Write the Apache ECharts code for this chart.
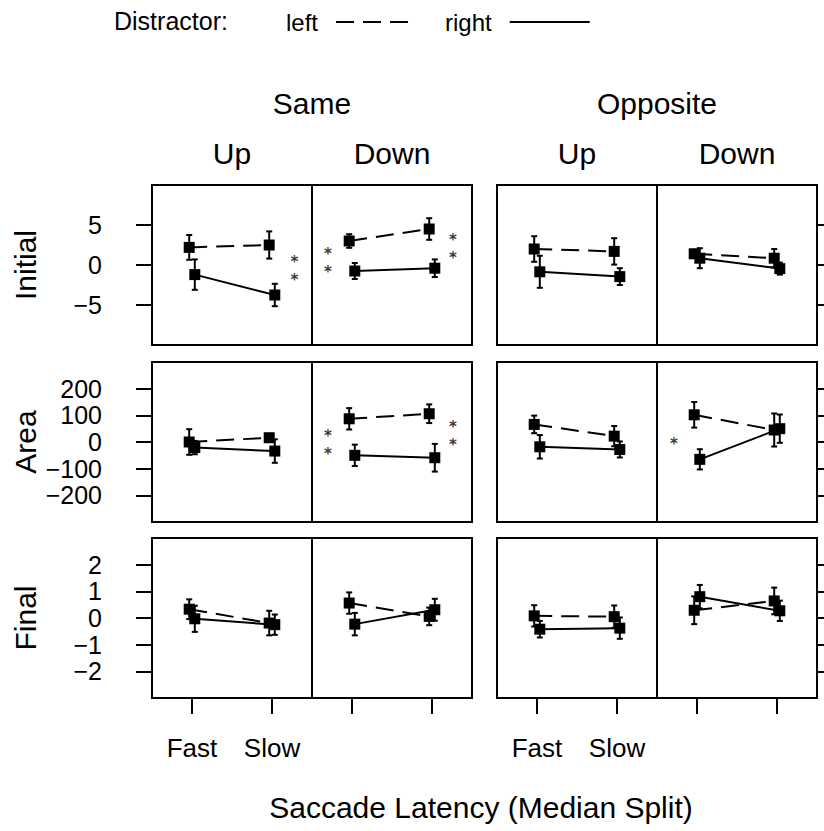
<!DOCTYPE html>
<html>
<head>
<meta charset="utf-8">
<script src="https://cdn.jsdelivr.net/npm/echarts@6/dist/echarts.min.js"></script>
<style>
  html, body { margin: 0; padding: 0; background: #fff; }
  #chart { width: 824px; height: 831px; }
</style>
</head>
<body>
<div id="chart"></div>
<script>
// ---- data -------------------------------------------------------------
const latencyLabels = ['Fast', 'Slow'];
const measureNames = ['Initial', 'Area', 'Final'];
const conditionNames = ['Same', 'Opposite'];
const directionNames = ['Up', 'Down'];
const distractorNames = ['left', 'right'];

// Panels in each row: Same-Up, Same-Down, Opposite-Up, Opposite-Down.
// Each entry is [Fast, Slow]; *Err holds the half-length of the error bar.
const initialLeftMean  = [[2.2, 2.5], [3.0, 4.5], [2.0, 1.7], [1.4, 0.85]];
const initialLeftErr   = [[1.55, 1.7], [0.85, 1.35], [1.6, 1.65], [0.5, 1.15]];
const initialRightMean = [[-1.2, -3.75], [-0.75, -0.4], [-0.85, -1.45], [0.85, -0.45]];
const initialRightErr  = [[1.9, 1.4], [1.0, 1.1], [2.0, 1.05], [1.25, 0.75]];

const areaLeftMean  = [[0, 16], [87, 106], [66, 22], [102, 45]];
const areaLeftErr   = [[48, 15], [40, 35], [33, 38], [48, 62]];
const areaRightMean = [[-21, -34], [-50, -59], [-18, -28], [-65, 50]];
const areaRightErr  = [[25, 44], [40, 52], [44, 30], [38, 53]];

const finalLeftMean  = [[0.33, -0.19], [0.56, 0.06], [0.08, 0.05], [0.29, 0.64]];
const finalLeftErr   = [[0.37, 0.46], [0.4, 0.33], [0.4, 0.42], [0.52, 0.5]];
const finalRightMean = [[-0.03, -0.25], [-0.23, 0.31], [-0.42, -0.38], [0.8, 0.27]];
const finalRightErr  = [[0.49, 0.38], [0.42, 0.41], [0.31, 0.4], [0.44, 0.38]];

// y ranges and tick values per row
const initialRange = [-10, 10];
const initialTicks = [-5, 0, 5];
const areaRange = [-300, 300];
const areaTicks = [-200, -100, 0, 100, 200];
const finalRange = [-3, 3];
const finalTicks = [-2, -1, 0, 1, 2];

// significance marks: [panel, x, y, number of asterisks stacked]
const initialStars = [[0, 2.28, -0.35, 2], [1, 0.7, 0.65, 2], [1, 2.26, 2.4, 2]];
const areaStars = [[1, 0.7, 0, 2], [1, 2.26, 32, 2], [3, 0.71, 4, 1]];
const finalStars = [];

// ---- layout -------------------------------------------------------------
const FONT = '"Liberation Sans", Arial, Helvetica, sans-serif';
const STAR_FONT = '"DejaVu Sans", "Liberation Sans", sans-serif';
const colLeft = [152, 312, 497, 657];
const rowTop = [185, 362, 538];
const panelW = 160;
const panelH = 160;
const dodge = 0.035;
const lineW = 2;
const axisStyle = { color: '#000', width: 2 };

const rows = [
  { range: initialRange, ticks: initialTicks, mean: [initialLeftMean, initialRightMean], err: [initialLeftErr, initialRightErr], stars: initialStars },
  { range: areaRange, ticks: areaTicks, mean: [areaLeftMean, areaRightMean], err: [areaLeftErr, areaRightErr], stars: areaStars },
  { range: finalRange, ticks: finalTicks, mean: [finalLeftMean, finalRightMean], err: [finalLeftErr, finalRightErr], stars: finalStars }
];

function fmtNum(v) {
  return v < 0 ? '\u2212' + Math.abs(v) : String(v);
}

function renderErrorBar(params, api) {
  const x = api.value(0), y = api.value(1), e = api.value(2);
  const hi = api.coord([x, y + e]);
  const lo = api.coord([x, y - e]);
  const cap = 3;
  const style = { stroke: '#000', lineWidth: 2 };
  return {
    type: 'group',
    children: [
      { type: 'line', shape: { x1: hi[0], y1: hi[1], x2: lo[0], y2: lo[1] }, style: style },
      { type: 'line', shape: { x1: hi[0] - cap, y1: hi[1], x2: hi[0] + cap, y2: hi[1] }, style: style },
      { type: 'line', shape: { x1: lo[0] - cap, y1: lo[1], x2: lo[0] + cap, y2: lo[1] }, style: style }
    ]
  };
}

const grids = [], xAxes = [], yAxes = [];
const lineSeries = [], barSeries = [], starSeries = [];

rows.forEach(function (row, r) {
  colLeft.forEach(function (left, c) {
    const g = r * 4 + c;
    grids.push({
      left: left, top: rowTop[r], width: panelW, height: panelH,
      show: true, borderColor: '#000', borderWidth: 2,
      containLabel: false, outerBoundsMode: 'none'
    });
    const bottomRow = r === rows.length - 1;
    xAxes.push({
      gridIndex: g, type: 'value', min: 0.5, max: 2.5, position: 'bottom',
      axisLine: { show: true, onZero: false, lineStyle: axisStyle },
      splitLine: { show: false },
      axisTick: { show: bottomRow, customValues: [1, 2], length: 16, lineStyle: axisStyle },
      axisLabel: {
        show: bottomRow && (c === 0 || c === 2), customValues: [1, 2], margin: 37,
        fontSize: 26, color: '#000', fontFamily: FONT,
        formatter: function (v) { return latencyLabels[Math.round(v) - 1]; }
      }
    });
    yAxes.push({
      gridIndex: g, type: 'value', min: row.range[0], max: row.range[1],
      position: c === 3 ? 'right' : 'left',
      axisLine: { show: true, onZero: false, lineStyle: axisStyle },
      splitLine: { show: false },
      axisTick: { show: c === 0 || c === 3, customValues: row.ticks, length: 16, lineStyle: axisStyle },
      axisLabel: {
        show: c === 0, customValues: row.ticks, margin: 50,
        fontSize: 25, color: '#000', fontFamily: FONT, formatter: fmtNum
      }
    });

    distractorNames.forEach(function (name, k) {
      const off = k === 0 ? -dodge : dodge;
      const mean = row.mean[k][c];
      const err = row.err[k][c];
      lineSeries.push({
        type: 'line', name: name, xAxisIndex: g, yAxisIndex: g,
        data: mean.map(function (v, i) { return [i + 1 + off, v]; }),
        symbol: 'rect', symbolSize: 11, showSymbol: true,
        itemStyle: { color: '#000' },
        lineStyle: { color: '#000', width: lineW, type: k === 0 ? [18, 9] : 'solid' },
        emphasis: { disabled: true }, silent: true, z: 3
      });
      barSeries.push({
        type: 'custom', name: name, xAxisIndex: g, yAxisIndex: g,
        data: mean.map(function (v, i) { return [i + 1 + off, v, err[i]]; }),
        encode: { x: 0, y: 1 },
        renderItem: renderErrorBar, silent: true, z: 2
      });
    });

    const marks = row.stars.filter(function (s) { return s[0] === c; });
    if (marks.length) {
      starSeries.push({
        type: 'scatter', name: 'significance', xAxisIndex: g, yAxisIndex: g,
        data: marks.map(function (s) { return [s[1], s[2], s[3]]; }),
        symbolSize: 1, itemStyle: { color: 'rgba(0,0,0,0)' }, silent: true, z: 4,
        label: {
          show: true, position: 'inside', offset: [0, 3],
          fontSize: 15, fontWeight: 'bold', lineHeight: 18, color: '#000', fontFamily: STAR_FONT,
          formatter: function (p) { return new Array(p.value[2]).fill('*').join('\n'); }
        }
      });
    }
  });
});

// ---- headings -------------------------------------------------------------
const graphics = [];
function addText(text, x, y, size, rotate) {
  graphics.push({
    type: 'text', x: x, y: y, rotation: rotate ? Math.PI / 2 : 0, silent: true,
    style: { text: text, fontSize: size, fontFamily: FONT, fill: '#000', align: 'center', verticalAlign: 'middle' }
  });
}
conditionNames.forEach(function (name, i) {
  const x0 = colLeft[i * 2], x1 = colLeft[i * 2 + 1] + panelW;
  addText(name, (x0 + x1) / 2, 103, 30);
});
colLeft.forEach(function (left, c) {
  addText(directionNames[c % 2], left + panelW / 2, 153, 30);
});
measureNames.forEach(function (name, r) {
  addText(name, 25, rowTop[r] + panelH / 2, 30, true);
});
addText('Saccade Latency (Median Split)', 481, 807, 30);
graphics.push({
  type: 'text', x: 114, y: 21, silent: true,
  style: { text: 'Distractor:', fontSize: 25, fontFamily: FONT, fill: '#000', align: 'left', verticalAlign: 'middle' }
});

function legendFor(name, left, width, dash) {
  return {
    data: [name], left: left, top: 10, padding: 0, align: 'right',
    itemWidth: width, itemHeight: 14, selectedMode: false,
    itemStyle: { opacity: 0 },
    lineStyle: { color: '#000', width: 2, type: dash },
    textStyle: { fontSize: 24, color: '#000', fontFamily: FONT, padding: [0, 13, 0, 0] }
  };
}

const chart = echarts.init(document.getElementById('chart'), null, { renderer: 'svg' });
chart.setOption({
  animation: false,
  backgroundColor: '#fff',
  textStyle: { fontFamily: FONT, color: '#000' },
  legend: [legendFor('left', 286, 72, [18, 9]), legendFor('right', 445, 80, 'solid')],
  grid: grids,
  xAxis: xAxes,
  yAxis: yAxes,
  graphic: graphics,
  series: lineSeries.concat(barSeries, starSeries)
});
</script>
</body>
</html>
